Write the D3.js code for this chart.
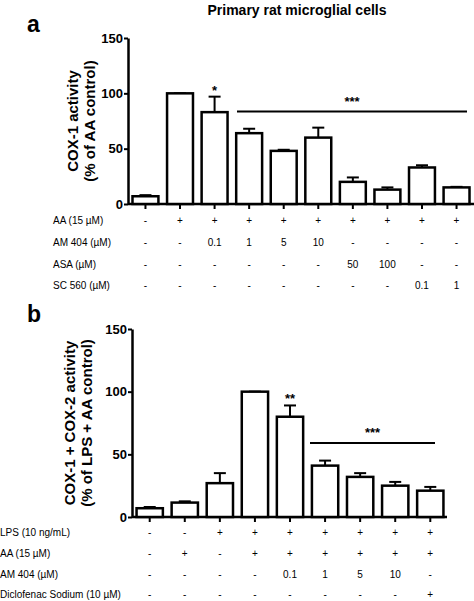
<!DOCTYPE html><html><head><script src="https://cdn.jsdelivr.net/npm/d3@7"></script>
<style>body{margin:0;background:#fff}text{font-family:Arial,"Liberation Sans",sans-serif}</style></head><body>
<svg id="c" width="474" height="601"></svg>
<script>
const aVals=[7,100,83,64,48,60,20,13,33,15];
const aErr=[8,100,97,68,49,69,24,15,35,15.5];
const aRows=[["AA (15 µM)",["-","+","+","+","+","+","+","+","+","+"]],["AM 404 (µM)",["-","-","0.1","1","5","10","-","-","-","-"]],["ASA (µM)",["-","-","-","-","-","-","50","100","-","-"]],["SC 560 (µM)",["-","-","-","-","-","-","-","-","0.1","1"]]];
const bVals=[7,11.5,27,100,80,41,32,25,21];
const bErr=[8,12.5,35,100,89,45,35,28,24];
const bRows=[["LPS (10 ng/mL)",["-","-","+","+","+","+","+","+","+"]],["AA (15 µM)",["-","+","-","+","+","+","+","+","+"]],["AM 404 (µM)",["-","-","-","-","0.1","1","5","10","-"]],["Diclofenac Sodium (10 µM)",["-","-","-","-","-","-","-","-","+"]]];
const yTicks=[0,50,100,150];
const svg=d3.select("#c");
svg.append("text").attr("x",297).attr("y",15).attr("text-anchor","middle").attr("font-weight","bold").attr("font-size",14).text("Primary rat microglial cells");
function panel(o){
  const g=svg.append("g");
  const y=d3.scaleLinear().domain([0,150]).range([o.y0,o.y150]);
  const x=d3.scaleBand().domain(d3.range(o.vals.length)).range([o.x0,o.x1]).paddingInner(0.25).paddingOuter(0.13);
  g.append("text").attr("x",27).attr("y",o.ly).attr("font-size",23).attr("font-weight","bold").text(o.letter);
  const ax=g.append("g").attr("transform",`translate(${o.x0},0)`).call(d3.axisLeft(y).tickValues(yTicks).tickSize(4).tickSizeOuter(0));
  ax.select(".domain").attr("stroke-width",2.5);ax.selectAll(".tick line").attr("stroke-width",2);
  ax.selectAll("text").attr("font-size",13).attr("font-weight","bold").attr("dx",2);
  const xa=g.append("g").attr("transform",`translate(0,${o.y0})`).call(d3.axisBottom(x).tickSize(5).tickSizeOuter(0).tickFormat(""));
  xa.select(".domain").attr("stroke-width",2.5).attr("d",`M${o.x0},0H${o.xEnd}`);xa.selectAll(".tick line").attr("stroke-width",2);
  o.vals.forEach((v,i)=>{
    const cx=x(i)+x.bandwidth()/2;
    g.append("line").attr("x1",cx).attr("x2",cx).attr("y1",y(v)).attr("y2",y(o.err[i])).attr("stroke","#000").attr("stroke-width",2);
    g.append("line").attr("x1",cx-6).attr("x2",cx+6).attr("y1",y(o.err[i])).attr("y2",y(o.err[i])).attr("stroke","#000").attr("stroke-width",2);
    g.append("rect").attr("x",x(i)).attr("y",y(v)).attr("width",x.bandwidth()).attr("height",y(0)-y(v)).attr("fill","#fff").attr("stroke","#000").attr("stroke-width",2.5);
  });
  o.stars.forEach(s=>{g.append("text").attr("x",x(s.i)+x.bandwidth()/2).attr("y",y(s.v)).attr("text-anchor","middle").attr("font-size",13).attr("font-weight","bold").text(s.t);});
  const L=o.line;
  g.append("line").attr("x1",L.x1).attr("x2",L.x2).attr("y1",y(L.v)).attr("y2",y(L.v)).attr("stroke","#000").attr("stroke-width",2);
  g.append("text").attr("x",(L.x1+L.x2)/2).attr("y",y(L.v)-6).attr("text-anchor","middle").attr("font-size",13).attr("font-weight","bold").text("***");
  o.rows.forEach((r,ri)=>{
    const ry=o.ry[ri];
    g.append("text").attr("x",o.lx).attr("y",ry).attr("font-size",10).attr("dominant-baseline","middle").text(r[0]);
    r[1].forEach((t,i)=>g.append("text").attr("x",x(i)+x.bandwidth()/2).attr("y",ry).attr("text-anchor","middle").attr("dominant-baseline","middle").attr("font-size",10).text(t));
  });
  const t=g.append("text").attr("transform",`translate(${o.tx},${(o.y0+o.y150)/2}) rotate(-90)`).attr("text-anchor","middle").attr("font-size",15).attr("font-weight","bold");
  t.append("tspan").attr("x",0).attr("dy",0).text(o.t1);
  t.append("tspan").attr("x",0).attr("dy",17).text(o.t2);
}
panel({letter:"a",ly:32,vals:aVals,err:aErr,rows:aRows,x0:128,x1:474,xEnd:474,y0:204,y150:38,
  stars:[{i:2,v:98.5,t:"*"}],line:{x1:237,x2:467,v:83.5},ry:[221,243,265,286],lx:53,tx:78,
  t1:"COX-1 activity",t2:"(% of AA control)"});
panel({letter:"b",ly:322,vals:bVals,err:bErr,rows:bRows,x0:132,x1:448,xEnd:447,y0:517,y150:329,
  stars:[{i:4,v:91,t:"**"}],line:{x1:310,x2:435,v:59},ry:[533,554,575,595],lx:0,tx:75,
  t1:"COX-1 + COX-2 activity",t2:"(% of LPS + AA control)"});
</script></body></html>
